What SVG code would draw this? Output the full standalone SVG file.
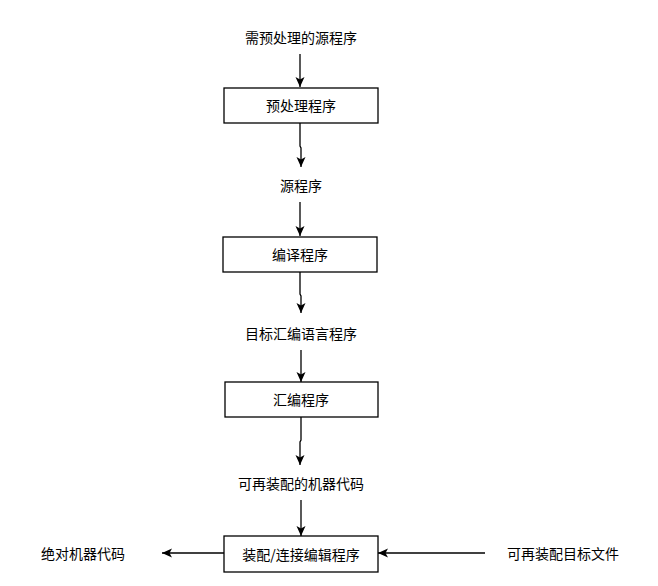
<svg xmlns="http://www.w3.org/2000/svg" width="658" height="586" viewBox="0 0 658 586">
<defs>
<style>
.box{fill:#fff;stroke:#000;stroke-width:1.3}
.t{font-family:"Noto Sans CJK SC","Noto Sans",sans-serif;font-size:14px;fill:#000;text-anchor:middle;dominant-baseline:central}
.e{fill:none;stroke:#000;stroke-width:1.3}
</style>
<marker id="a" markerUnits="userSpaceOnUse" markerWidth="12" markerHeight="10" refX="10" refY="4.5" orient="auto" viewBox="0 0 12 9">
<path d="M0,0 L10,4.5 L0,9 L2.5,4.5 Z" fill="#000"/>
</marker>
</defs>
<rect width="658" height="586" fill="#fff"/>
<g id="edges">
<path class="e" d="M300,54 V87" marker-end="url(#a)"/>
<path class="e" d="M300,123 V146 L301,148 V167" marker-end="url(#a)"/>
<path class="e" d="M300,202 V236" marker-end="url(#a)"/>
<path class="e" d="M300,272 V294 L301,296 V313" marker-end="url(#a)"/>
<path class="e" d="M301,350 V382" marker-end="url(#a)"/>
<path class="e" d="M301,417 V440 L300,442 V465" marker-end="url(#a)"/>
<path class="e" d="M301,500 V536" marker-end="url(#a)"/>
<path class="e" d="M224,553 H162" marker-end="url(#a)"/>
<path class="e" d="M485,553 H378" marker-end="url(#a)"/>
</g>
<g id="n1"><text class="t" x="301" y="37">需预处理的源程序</text></g>
<g id="n2"><rect class="box" x="224" y="88" width="154" height="35"/><text class="t" x="301" y="105">预处理程序</text></g>
<g id="n3"><text class="t" x="301" y="185">源程序</text></g>
<g id="n4"><rect class="box" x="223" y="237" width="154" height="35"/><text class="t" x="300" y="254">编译程序</text></g>
<g id="n5"><text class="t" x="301" y="333">目标汇编语言程序</text></g>
<g id="n6"><rect class="box" x="225" y="382" width="153" height="35"/><text class="t" x="301" y="399">汇编程序</text></g>
<g id="n7"><text class="t" x="301" y="483">可再装配的机器代码</text></g>
<g id="n8"><rect class="box" x="224" y="536" width="154" height="36"/><text class="t" x="301" y="554">装配/连接编辑程序</text></g>
<g id="n9"><text class="t" x="83" y="553">绝对机器代码</text></g>
<g id="n10"><text class="t" x="563" y="553">可再装配目标文件</text></g>
</svg>
